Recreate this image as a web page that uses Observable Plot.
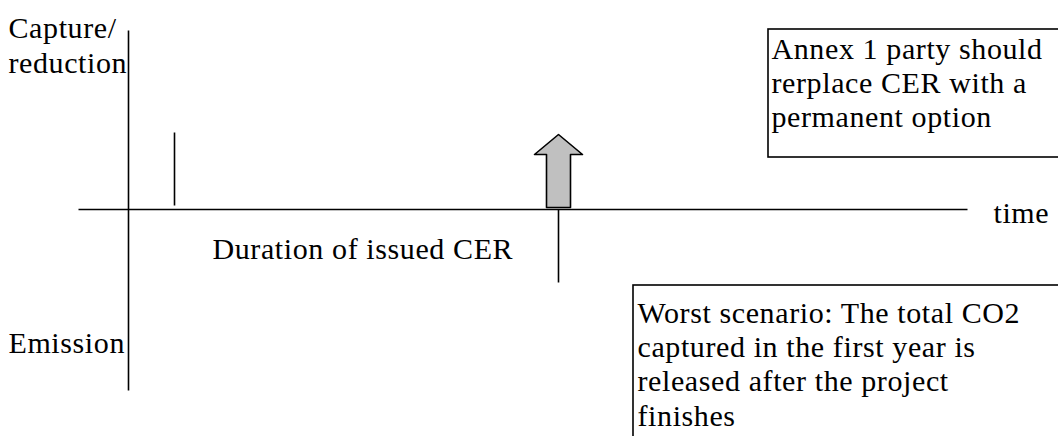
<!DOCTYPE html>
<html>
<head>
<meta charset="utf-8">
<script src="https://cdn.jsdelivr.net/npm/d3@7"></script>
<script src="https://cdn.jsdelivr.net/npm/@observablehq/plot@0.6"></script>
<style>
  html, body { margin: 0; padding: 0; background: #fff; }
  svg text { letter-spacing: 0.6px; }
</style>
</head>
<body>
<div id="chart"></div>
<script>
// Diagram data in an abstract (time, capture) coordinate system; origin at the axes crossing.
const axisLines = [
  {name: "capture axis", x1: 0, y1: 179, x2: 0, y2: -181},
  {name: "time axis", x1: -50, y1: 0, x2: 839, y2: 0},
  {name: "start of CER", x1: 46, y1: 77, x2: 46, y2: 4},
  {name: "release", x1: 430, y1: 0, x2: 430, y2: -73}
];
const arrowCenter = 430;
const arrowShape = [ // [dx from center, y]
  [-12, 2], [-12, 55], [-24, 55], [0, 75], [24, 55], [12, 55], [12, 2], [-12, 2]
];
const boxes = [
  {name: "annex", x1: 640, x2: 935, y1: 180, y2: 52},
  {name: "worst", x1: 505, x2: 935, y1: -76, y2: -240}
];
const labels = [
  {text: "Capture/\nreduction", x: -120, y: 196.9, lh: 1.17},
  {text: "Emission", x: -120, y: -118.5, lh: 1.15},
  {text: "time", x: 865, y: 11.5, lh: 1.15},
  {text: "Duration of issued CER", x: 84, y: -24.5, lh: 1.15},
  {text: "Annex 1 party should\nrerplace CER with a\npermanent option", x: 643, y: 175.5, lh: 1.15},
  {text: "Worst scenario: The total CO2\ncaptured in the first year is\nreleased after the project\nfinishes", x: 509, y: -88.5, lh: 1.15}
];

const arrowPts = arrowShape.map(([dx, y]) => ({x: arrowCenter + dx, y}));

const plot = Plot.plot({
  width: 1058,
  height: 436,
  margin: 0,
  x: {domain: [-128, 930], range: [0, 1058], axis: null},
  y: {domain: [-227, 209], range: [436, 0], axis: null},
  marks: [
    Plot.link(axisLines, {x1: "x1", y1: "y1", x2: "x2", y2: "y2", stroke: "black", strokeWidth: 1.6}),
    Plot.line(arrowPts, {x: "x", y: "y", fill: "#c0c0c0", stroke: "black", strokeWidth: 1.6, curve: "linear"}),
    Plot.rect(boxes, {x1: "x1", x2: "x2", y1: "y1", y2: "y2", fill: "none", stroke: "black", strokeWidth: 1.6}),
    ...labels.map(l => Plot.text([l], {x: "x", y: "y", text: "text", textAnchor: "start", lineAnchor: "top",
      lineHeight: l.lh, fontSize: 30, fill: "black", fontFamily: "Liberation Serif"}))
  ]
});
document.getElementById("chart").appendChild(plot);
</script>
</body>
</html>
